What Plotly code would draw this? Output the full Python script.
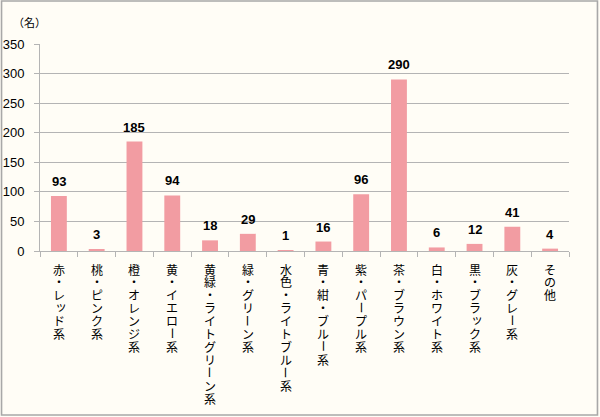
import plotly.graph_objects as go

categories = ["赤・レッド系", "桃・ピンク系", "橙・オレンジ系", "黄・イエロー系",
              "黄緑・ライトグリーン系", "緑・グリーン系", "水色・ライトブルー系",
              "青・紺・ブルー系", "紫・パープル系", "茶・ブラウン系", "白・ホワイト系",
              "黒・ブラック系", "灰・グレー系", "その他"]
counts = [93, 3, 185, 94, 18, 29, 1, 16, 96, 290, 6, 12, 41, 4]
y_ticks = [0, 50, 100, 150, 200, 250, 300, 350]

W, H = 600, 417
L, R, T, B = 39.5, 31, 44, 166
pw, ph = W - L - R, H - T - B

BAR = "#F29CA2"
GRID = "#B4B4B4"
NUM_FONT = "Liberation Sans, Arial, sans-serif"
JP_FONT = "Noto Sans CJK JP, sans-serif"

fig = go.Figure(go.Bar(x=categories, y=counts, marker=dict(color=BAR, line=dict(width=0)),
                       hoverinfo="x+y"))

ann = []
# value labels above bars
for c, v in zip(categories, counts):
    ann.append(dict(x=c, y=v, xref="x", yref="y", text=f"<b>{v}</b>", showarrow=False,
                    yanchor="bottom", yshift=5, font=dict(family=NUM_FONT, size=13, color="#000")))

# vertical (tategaki) category labels, one character per annotation
small = set("ッャュョァィゥェォ")
pitch = 12.9
for c in categories:
    for k, ch in enumerate(c):
        a = dict(x=c, y=0, xref="x", yref="y", text=ch, showarrow=False,
                 yanchor="middle", yshift=-(18 + k * pitch),
                 font=dict(family=JP_FONT, size=12, color="#000"))
        if ch == "ー":
            a["textangle"] = 90
        if ch in small:
            a["xshift"] = 2
            a["yshift"] += 2
        ann.append(a)

# unit label
ann.append(dict(x=-(L - 10) / pw, y=1 + 22 / ph, xref="paper", yref="paper", text="（名）",
                showarrow=False, xanchor="left", yanchor="middle",
                font=dict(family=JP_FONT, size=11, color="#000")))

fig.update_layout(
    width=W, height=H,
    margin=dict(l=L, r=R, t=T, b=B, pad=0, autoexpand=False),
    paper_bgcolor="#FFFDF6", plot_bgcolor="#FFFDF6",
    bargap=0.58, showlegend=False,
    annotations=ann,
    shapes=[dict(type="rect", xref="paper", yref="paper",
                 x0=(1 - L) / pw, x1=(597.5 - L) / pw,
                 y0=-(415 - T - ph) / ph, y1=1 + (T - 1) / ph,
                 line=dict(color="#A8A8A8", width=1.6), fillcolor="rgba(0,0,0,0)", layer="below")],
)
fig.update_xaxes(showticklabels=False, showline=True, linecolor=GRID, linewidth=1,
                 ticks="outside", tickson="boundaries", ticklen=5, tickcolor=GRID,
                 showgrid=False, fixedrange=True, automargin=False)
fig.update_yaxes(range=[0, 350], tickvals=y_ticks, showline=True, linecolor=GRID, linewidth=1,
                 ticks="outside", ticklen=5, tickcolor=GRID, gridcolor=GRID, gridwidth=1,
                 zeroline=False, ticklabelstandoff=7, automargin=False,
                 tickfont=dict(family=NUM_FONT, size=13, color="#000"),
                 fixedrange=True)

fig.write_html("out.html", config={"displayModeBar": False},
               post_script="document.body.style.margin='0';")
